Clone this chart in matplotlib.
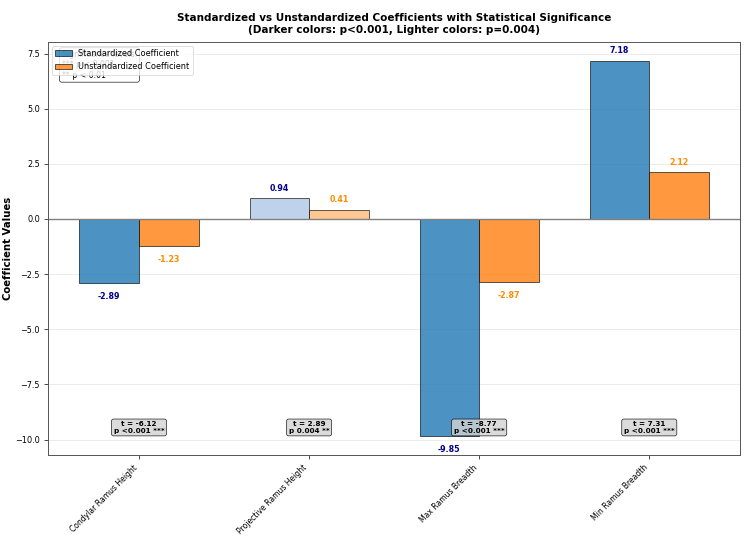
import matplotlib
matplotlib.use('Agg')
import matplotlib.pyplot as plt
import numpy as np

variables = ['Condylar Ramus Height', 'Projective Ramus Height', 'Max Ramus Breadth', 'Min Ramus Breadth']
std_coef = [-2.89, 0.94, -9.85, 7.18]
unstd_coef = [-1.23, 0.41, -2.87, 2.12]
t_values = [-6.12, 2.89, -8.77, 7.31]
p_labels = ['p <0.001 ***', 'p 0.004 **', 'p <0.001 ***', 'p <0.001 ***']
highly_sig = [True, False, True, True]

x = np.arange(len(variables))
width = 0.35
lw = 0.55  # line scale

fig, ax = plt.subplots(figsize=(7.5, 5.36), dpi=100)
fig.subplots_adjust(left=0.064, right=0.987, top=0.922, bottom=0.151)

std_colors = ['#1f77b4' if h else '#aec7e8' for h in highly_sig]
unstd_colors = ['#ff7f0e' if h else '#ffbb78' for h in highly_sig]

ax.bar(x - width / 2, std_coef, width, color=std_colors, alpha=0.8,
       edgecolor='black', linewidth=lw, label='Standardized Coefficient')
ax.bar(x + width / 2, unstd_coef, width, color=unstd_colors, alpha=0.8,
       edgecolor='black', linewidth=lw, label='Unstandardized Coefficient')

# value labels
for i in range(len(variables)):
    for xpos, val, col in [(x[i] - width / 2, std_coef[i], 'darkblue'),
                           (x[i] + width / 2, unstd_coef[i], 'darkorange')]:
        if val >= 0:
            ax.text(xpos, val + 0.25, f'{val:.2f}', ha='center', va='bottom',
                    fontsize=5.7, fontweight='bold', color=col)
        else:
            ax.text(xpos, val - 0.4, f'{val:.2f}', ha='center', va='top',
                    fontsize=5.7, fontweight='bold', color=col)

# t / p boxes
for i in range(len(variables)):
    ax.text(x[i], -9.45, f't = {t_values[i]:.2f}\n{p_labels[i]}', ha='center', va='center',
            fontsize=5.2, fontweight='bold', linespacing=1.1,
            bbox=dict(boxstyle='round,pad=0.3', facecolor='lightgray', alpha=0.8,
                      edgecolor='black', linewidth=lw))

ax.axhline(0, color='gray', linewidth=1.0)
ax.grid(axis='y', alpha=0.3, linewidth=lw)
ax.set_axisbelow(True)
for sp in ax.spines.values():
    sp.set_linewidth(0.7)
    sp.set_color('#555555')
ax.tick_params(width=0.5, length=3.2, pad=2.5)

ax.set_xticks(x)
ax.set_xticklabels(variables, rotation=45, ha='right', fontsize=5.5)
ax.tick_params(axis='y', labelsize=5.9)
ax.set_ylabel('Coefficient Values', fontsize=7.3, fontweight='bold', labelpad=2)
ax.set_title('Standardized vs Unstandardized Coefficients with Statistical Significance\n'
             '(Darker colors: p<0.001, Lighter colors: p=0.004)',
             fontsize=7.5, fontweight='bold', pad=6.5)

ax.text(0.02, 0.98, 'Significance levels:\n*** p < 0.001\n** p < 0.01', transform=ax.transAxes,
        ha='left', va='top', fontsize=5.6,
        bbox=dict(boxstyle='round', facecolor='white', alpha=0.8, linewidth=lw))

leg = ax.legend(loc='upper left', fontsize=5.9, framealpha=0.8)
leg.get_frame().set_linewidth(lw)
leg.set_zorder(10)

fig.savefig('out.png', dpi=100)
